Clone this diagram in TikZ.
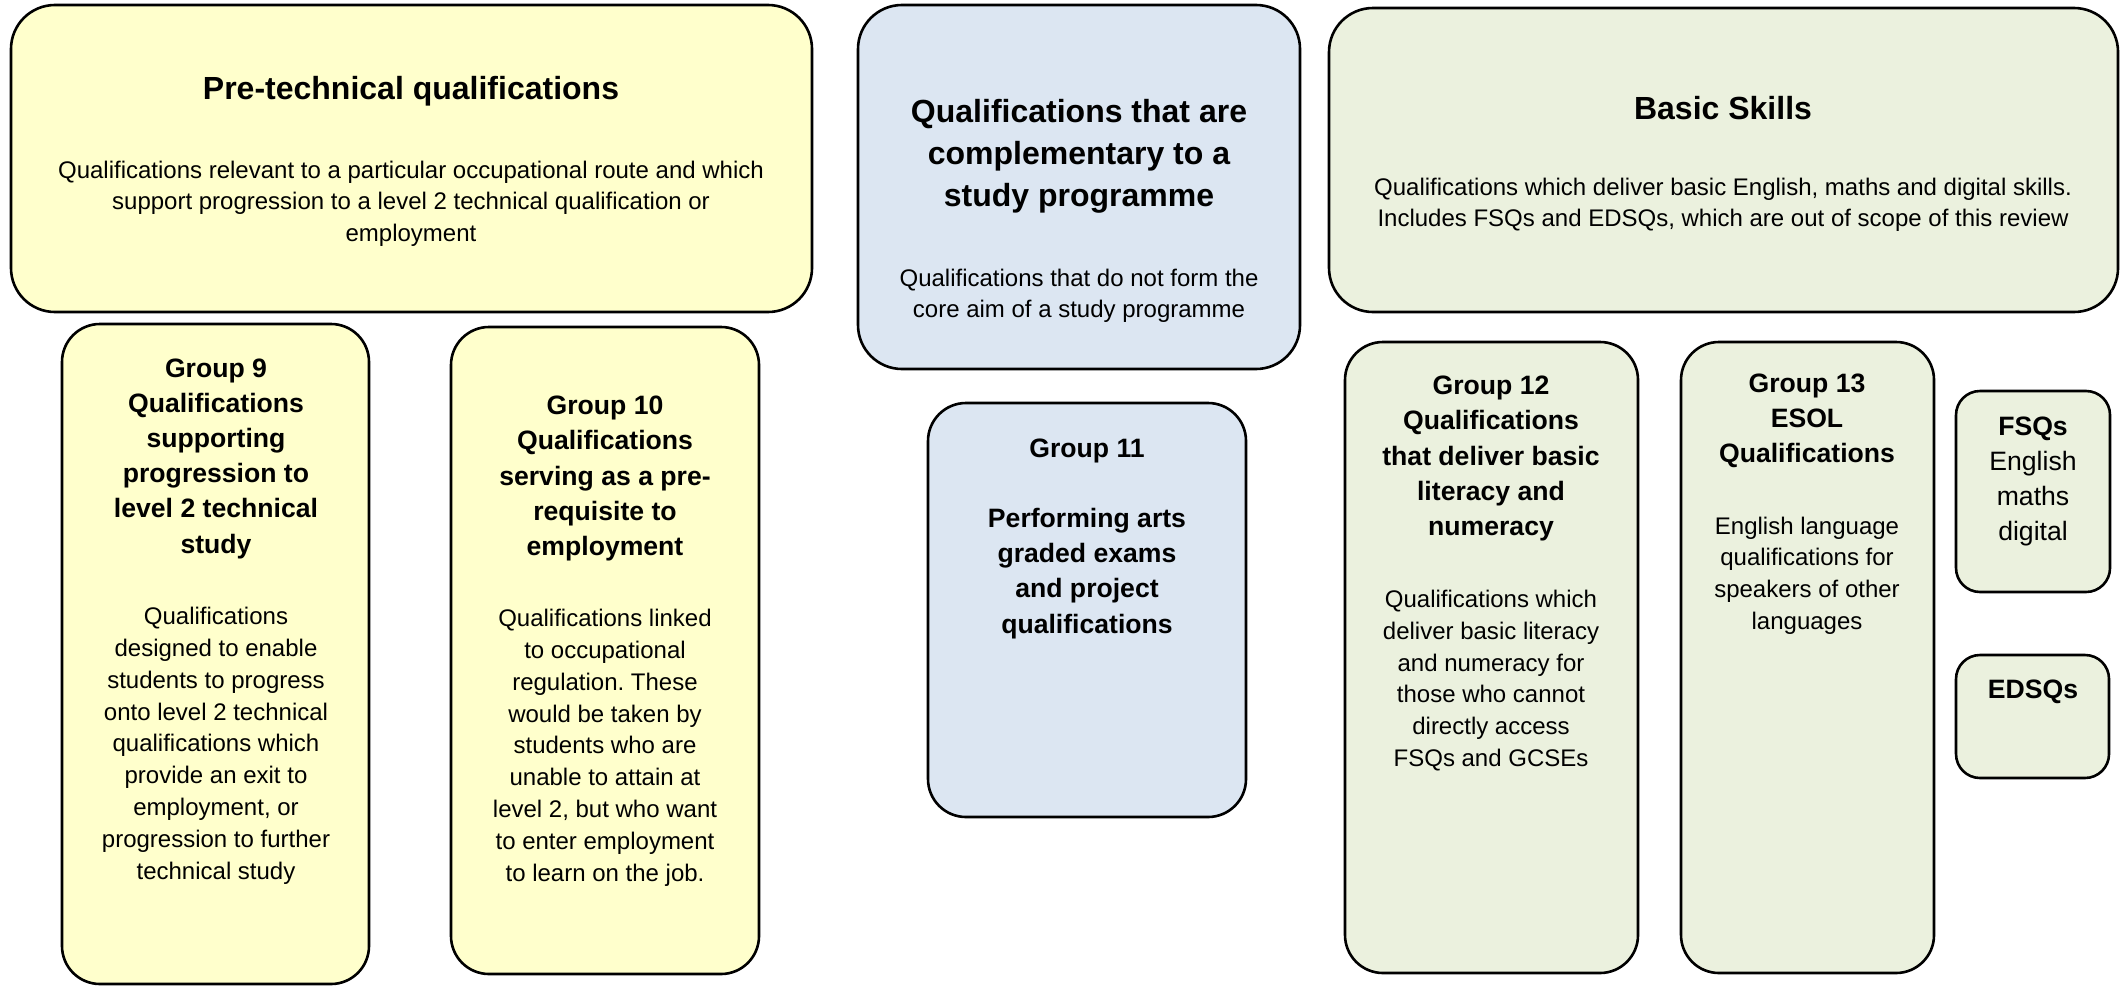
\documentclass[tikz,border=0pt]{standalone}
\usepackage{fontspec}
\setmainfont{Liberation Sans}
\frenchspacing
\usetikzlibrary{fit}
\definecolor{yel}{HTML}{FFFFCC}
\definecolor{blu}{HTML}{DCE6F2}
\definecolor{grn}{HTML}{EBF1DE}
\tikzset{
  box/.style={draw=black, line width=1.3pt, inner sep=0pt, rounded corners=#1},
  box/.default=20pt,
  bigtitle/.style={align=center, inner sep=0pt, yshift=-1.8pt, font=\bfseries\fontsize{16}{21}\selectfont},
  bodytxt/.style={align=center, inner sep=0pt, yshift=-1.8pt, font=\fontsize{12}{15.75}\selectfont},
  grptitle/.style={align=center, inner sep=0pt, yshift=-1.8pt, font=\bfseries\fontsize{13.3}{17.6}\selectfont},
  grpbody/.style={align=center, inner sep=0pt, yshift=-1.8pt, font=\fontsize{12}{15.9}\selectfont},
  fsqtxt/.style={align=center, inner sep=0pt, yshift=-1.8pt, font=\fontsize{13.3}{17.6}\selectfont},
}
\begin{document}
\begin{tikzpicture}[x=0.5pt,y=-0.5pt]
\useasboundingbox (0,0) rectangle (2128,985);
% top boxes
\node[box=22pt, fill=yel, fit={(11,5) (812,312)}] (pre) {};
\node[box=22pt, fill=blu, fit={(858,5) (1300,369)}] (comp) {};
\node[box=22pt, fill=grn, fit={(1329,8) (2118,312)}] (basic) {};
% group boxes
\node[box=19pt, fill=yel, fit={(62,324) (369,984)}] (g9) {};
\node[box=19pt, fill=yel, fit={(451,327) (759,974)}] (g10) {};
\node[box=19pt, fill=blu, fit={(928,403) (1246,817)}] (g11) {};
\node[box=19pt, fill=grn, fit={(1345,342) (1638,973)}] (g12) {};
\node[box=19pt, fill=grn, fit={(1681,342) (1934,973)}] (g13) {};
\node[box=12pt, fill=grn, fit={(1956,391) (2110,592)}] (fsq) {};
\node[box=12pt, fill=grn, fit={(1956,655) (2109,778)}] (edsq) {};
% texts
\node[bigtitle] (preT) at (411,88) {Pre-technical qualifications};
\node[bodytxt] (preB) at (411,200) {Qualifications relevant to a particular occupational route and which\\support progression to a level 2 technical qualification or\\employment};
\node[bigtitle] (compT) at (1079,153) {Qualifications that are\\complementary to a\\study programme};
\node[bodytxt] (compB) at (1079,292) {Qualifications that do not form the\\core aim of a study programme};
\node[bigtitle] (basicT) at (1723,104) {Basic Skills};
\node[bodytxt] (basicB) at (1723,201) {Qualifications which deliver basic English, maths and digital skills.\\Includes FSQs and EDSQs, which are out of scope of this review};
\node[grptitle] (g9T) at (216,455) {Group 9\\Qualifications\\supporting\\progression to\\level 2 technical\\study};
\node[grpbody] (g9B) at (216,742) {Qualifications\\designed to enable\\students to progress\\onto level 2 technical\\qualifications which\\provide an exit to\\employment, or\\progression to further\\technical study};
\node[grptitle] (g10T) at (605,475) {Group 10\\Qualifications\\serving as a pre-\\requisite to\\employment};
\node[grpbody] (g10B) at (605,744) {Qualifications linked\\to occupational\\regulation. These\\would be taken by\\students who are\\unable to attain at\\level 2, but who want\\to enter employment\\to learn on the job.};
\node[grptitle] (g11T) at (1087,535) {Group 11\\[17.6pt]Performing arts\\graded exams\\and project\\qualifications};
\node[grptitle] (g12T) at (1491,455) {Group 12\\Qualifications\\that deliver basic\\literacy and\\numeracy};
\node[grpbody] (g12B) at (1491,677) {Qualifications which\\deliver basic literacy\\and numeracy for\\those who cannot\\directly access\\FSQs and GCSEs};
\node[grptitle] (g13T) at (1807,417) {Group 13\\ESOL\\Qualifications};
\node[grpbody] (g13B) at (1807,572) {English language\\qualifications for\\speakers of other\\languages};
\node[fsqtxt] (fsqT) at (2033,478) {\textbf{FSQs}\\English\\maths\\digital};
\node[grptitle] (edsqT) at (2033,688) {EDSQs};
\end{tikzpicture}
\end{document}
